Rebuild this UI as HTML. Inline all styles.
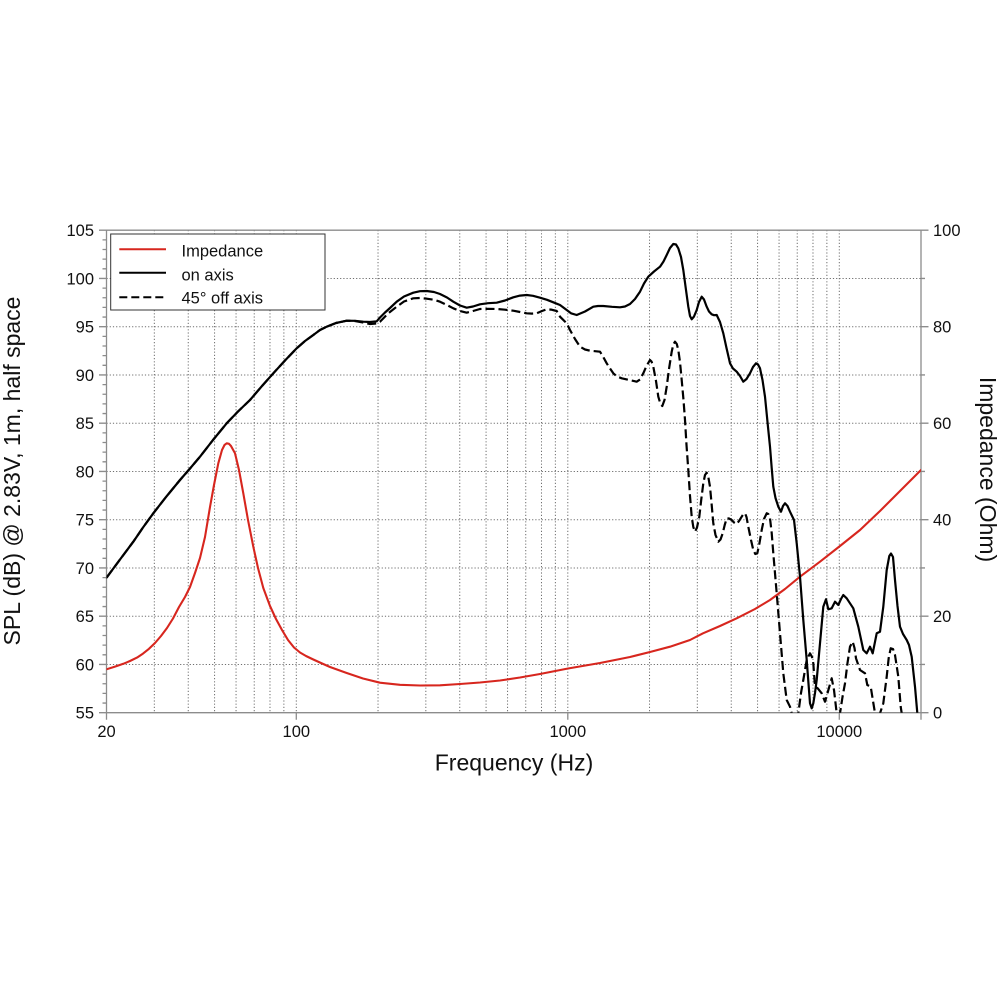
<!DOCTYPE html>
<html><head><meta charset="utf-8">
<style>
html,body{margin:0;padding:0;background:#fff;}
svg{display:block;}
text{font-family:"Liberation Sans",Arial,sans-serif;fill:#111;}
</style></head>
<body>
<svg width="1000" height="1000" viewBox="0 0 1000 1000" xmlns="http://www.w3.org/2000/svg">
<defs><clipPath id="pa"><rect x="106.5" y="230.2" width="814.5" height="482.5"/></clipPath></defs>
<rect width="1000" height="1000" fill="#fff"/>
<!-- grid -->
<g stroke="#6e6e6e" stroke-width="1" stroke-dasharray="1.2 2" fill="none">
<path d="M154.33 230V712.7M188.25 230V712.7M214.57 230V712.7M236.06 230V712.7M254.24 230V712.7M269.98 230V712.7M283.87 230V712.7M296.3 230V712.7
M378.03 230V712.7M425.83 230V712.7M459.75 230V712.7M486.07 230V712.7M507.56 230V712.7M525.74 230V712.7M541.48 230V712.7M555.37 230V712.7M567.8 230V712.7
M649.53 230V712.7M697.33 230V712.7M731.25 230V712.7M757.57 230V712.7M779.06 230V712.7M797.24 230V712.7M812.98 230V712.7M826.87 230V712.7M839.3 230V712.7"/>
<path d="M106.5 664.45H921M106.5 616.2H921M106.5 567.95H921M106.5 519.7H921M106.5 471.45H921M106.5 423.2H921M106.5 374.95H921M106.5 326.7H921M106.5 278.45H921"/>
</g>
<!-- axes frame -->
<g stroke="#8c8c8c" stroke-width="1.3" fill="none">
<path d="M106.5 230.2H921M106.5 230.2V712.7H921M921 230.2V712.7"/>
<path d="M99 712.7h7.5M99 664.45h7.5M99 616.2h7.5M99 567.95h7.5M99 519.7h7.5M99 471.45h7.5M99 423.2h7.5M99 374.95h7.5M99 326.7h7.5M99 278.45h7.5M99 230.2h7.5"/>
<path d="M102.5 703.05h4M102.5 693.4h4M102.5 683.75h4M102.5 674.1h4M102.5 654.8h4M102.5 645.15h4M102.5 635.5h4M102.5 625.85h4M102.5 606.55h4M102.5 596.9h4M102.5 587.25h4M102.5 577.6h4M102.5 558.3h4M102.5 548.65h4M102.5 539h4M102.5 529.35h4M102.5 510.05h4M102.5 500.4h4M102.5 490.75h4M102.5 481.1h4M102.5 461.8h4M102.5 452.15h4M102.5 442.5h4M102.5 432.85h4M102.5 413.55h4M102.5 403.9h4M102.5 394.25h4M102.5 384.6h4M102.5 365.3h4M102.5 355.65h4M102.5 346h4M102.5 336.35h4M102.5 317.05h4M102.5 307.4h4M102.5 297.75h4M102.5 288.1h4M102.5 268.8h4M102.5 259.15h4M102.5 249.5h4M102.5 239.85h4"/>
<path d="M921 712.7h7.5M921 616.2h7.5M921 519.7h7.5M921 423.2h7.5M921 326.7h7.5M921 230.2h7.5M921 664.45h4M921 567.95h4M921 471.45h4M921 374.95h4M921 278.45h4"/>
<path d="M106.5 712.7v7M296.3 712.7v7M567.8 712.7v7M839.3 712.7v7M921 712.7v7"/>
</g>
<g font-size="16.5" text-anchor="end">
<text x="94" y="718.7">55</text>
<text x="94" y="670.45">60</text>
<text x="94" y="622.2">65</text>
<text x="94" y="573.95">70</text>
<text x="94" y="525.7">75</text>
<text x="94" y="477.45">80</text>
<text x="94" y="429.2">85</text>
<text x="94" y="380.95">90</text>
<text x="94" y="332.7">95</text>
<text x="94" y="284.45">100</text>
<text x="94" y="236.2">105</text>
</g>
<g font-size="16.5" text-anchor="start">
<text x="933" y="718.7">0</text>
<text x="933" y="622.2">20</text>
<text x="933" y="525.7">40</text>
<text x="933" y="429.2">60</text>
<text x="933" y="332.7">80</text>
<text x="933" y="236.2">100</text>
</g>
<g font-size="16.5" text-anchor="middle">
<text x="106.5" y="737">20</text>
<text x="296.3" y="737">100</text>
<text x="567.8" y="737">1000</text>
<text x="839.3" y="737">10000</text>
</g>
<text x="514" y="770.5" font-size="23" text-anchor="middle">Frequency (Hz)</text>
<text transform="translate(20,471) rotate(-90)" font-size="23" text-anchor="middle">SPL (dB) @ 2.83V, 1m, half space</text>
<text transform="translate(980,469.5) rotate(90)" font-size="23" text-anchor="middle">Impedance (Ohm)</text>

<g clip-path="url(#pa)" fill="none" stroke-linejoin="round" stroke-linecap="round">
<polyline stroke="#d7261e" stroke-width="2.1" points="106.5,669.3 115,666.6 123.3,663.8 130,661 137,657.6 143,653.6 149,648.8 155,643 161,636 167,628 173,618.5 179,607 185,597 190,587 195,573 200,558 205,537 210,507 214,485 218.3,463.3 222,450 224.5,445 226.7,443.3 229,443.8 231,446 235,453.3 239,470 243.3,493.3 248,520 253.3,546.7 258,568 263.3,588 270,606 276,619 282,630 288,640 294,647.5 300,652.5 306,656 313.3,659.5 321,663 330,667 346.7,673 363,678.5 380,682.7 400,684.8 420,685.5 440,685.3 460,684 480,682.5 500,680.5 520,677.5 540,674 568,668.5 600,663 630,657 650,652 670,646.7 690,640 703,633.3 720,626 736.7,618.3 755,609 770,600 785,589 800,576.7 820,561.7 840,546 860,530 880,511 900,491 921,470"/>
<polyline stroke="#000" stroke-width="2.2" points="106.7,577.5 120,559.5 133.3,541.7 143,527.5 153.3,513.3 166,497 180,480 190,468.5 200,456.7 213,440 226.7,423.3 238,411.5 250,400 262,386 273.3,373.3 285,360.5 296.7,348.3 305,341 313.3,335 320,330 326.7,326.7 336,323 346.7,320.7 355,320.8 363.3,321.7 370,322 376.7,321.3 380,317.5 385,312.5 390,308 396.7,301.7 404,296.5 413.3,292.7 420,291.2 426.7,291 434,292 440,294 447,297.5 453.3,301.7 460,305.5 466.7,307.7 473,306.5 480,304.3 488,303.2 496.7,302.7 505,300.5 513.3,297.3 520,295.6 526.7,295 533,295.8 540,297.7 547,299.8 553.3,302.3 560,305 566.7,310 571,313.3 576.7,315 585,311.5 593.3,306.7 598,306 603.3,306 612,306.8 620,307.3 625,306.5 630,304 635,299 640,291.7 644,283.5 648.3,276.7 654,271.5 660,266.7 663.5,261.5 666.7,255 670,248 673.3,244 676,244.5 678.3,248.3 681,257 683.3,270 686,290 688.3,306.7 690,316 691.7,319.3 694,316.5 696.7,310 699,302 701.7,296.7 704,299.5 706.7,306.7 709,311.5 711.7,314.3 714,315.2 716.7,315 720,322 723.3,333.3 726.5,348 730,363.3 733,368.5 736.7,371.7 740,376 743.3,381.7 746.5,379 750,373.3 753,367 756,363.3 758,364.5 760,368.3 762.5,380 765,396.7 768.3,430 770,446.7 771.7,468 773.3,486.7 775.5,498 778.3,506.7 781,511.7 783,506 785,503.3 787.5,506 790,511.7 794,520 796.7,543.3 800,576.7 803.3,620 806.7,660 810,703.3 811.7,708.3 813.3,703.3 815,693 816.7,680 820,643.3 823.3,606.7 826,599.3 828.3,609.3 831.7,608.3 835,601.7 838.3,605 841,599 843.3,595 846.7,598.3 850,603.3 853.3,608.3 858.3,626.7 863.3,650 866.7,653.3 870,646.7 872.7,653.3 876.7,633.3 880,631.7 883.3,606.7 886.7,570 889.3,556 891,553.5 893,557 895,580 897.5,606 900,626.7 903,634 906.7,640 909,645 911.7,656.7 915,686.7 917.3,713 918.5,725"/>
<polyline stroke="#000" stroke-width="2.2" stroke-dasharray="9 4" stroke-linecap="butt" points="106.7,577.5 120,559.5 133.3,541.7 143,527.5 153.3,513.3 166,497 180,480 190,468.5 200,456.7 213,440 226.7,423.3 238,411.5 250,400 262,386 273.3,373.3 285,360.5 296.7,348.3 305,341 313.3,335 320,330 326.7,326.7 336,323 346.7,320.7 355,321 363.3,322.5 370,324 376.7,323.5 380,321.7 388,313.5 396.7,306.7 404,301.5 413.3,298.3 420,298 426.7,298.7 434,299.8 440,301.7 447,305 453.3,308.3 460,311 466.7,312.7 473,311 480,309 488,308.8 496.7,309 505,309.7 513.3,310.7 520,312 526.7,313.3 532,313.6 536.7,313.3 542,311 546.7,309.3 551,309.6 556.7,311 560,316.7 566.7,323.3 570,330 575,339 580,346.7 585,349.5 590,350.7 595,351.2 600,351.7 603,356.5 606.7,363.3 610,368.5 613.3,373.3 617,376.5 621.7,378.3 629,380 636.7,381.7 640,379.5 643.3,373.3 646.5,366 650,360 651.5,361.5 653.3,366.7 656,381 658.3,396.7 660.5,404 662.3,406 664.5,400 666.7,386.7 669,369 671.7,351.7 673.3,344.5 675,341.7 676.8,344 678.3,350 680,362 681.7,380 683.5,400 685,420 686.5,445 688.3,470 690,496 691.7,516.7 693.3,527 695,531.7 697,527.5 699.3,516.7 701.2,500 703.3,483.3 705,475 706.7,472.7 708.3,477 710,486.7 711.7,505 713.3,523.3 715.5,535 718.3,541.7 720.5,539.5 722.7,533.3 724.7,525 726.7,518.3 729,518.5 731.7,520 734,522.5 736.7,524 739,521 741.7,516.7 743.5,514 745,513.3 746.5,517 748.3,526.7 751,540 753.3,550 755.3,554 757.3,553.3 759.5,543 761.7,530 764,519 766.7,513.3 768.3,514 770,518.3 771.7,533 773.3,553.3 776.7,593.3 780,633.3 783.3,673.3 786.7,700 790,706.7 791.7,713.3 795,722 798.3,713.3 801,693 803.3,680 806.7,660 810,653.3 812,657 813.3,663.3 815,686.7 817.7,688.3 821.7,693.3 825,701.7 827,695 829.3,686.7 831.7,678.3 834,690 836.7,713.3 838.3,722 840,713.3 842.5,697 845,683.3 847.5,663 850,646.7 852.7,641.7 854.5,648 856,658.3 860,670 865,673.3 867.3,685 870.7,686.7 875,713.3 877.5,722 880,713.3 883.3,703.3 886.7,676.7 888.7,658 890.7,648.3 893,649 895,655 898.3,676.7 900.7,706.7 901.7,713.3 903,725"/>
</g>
<rect x="110.7" y="234" width="214.3" height="76" fill="#fff" stroke="#333" stroke-width="1"/>
<line x1="119.3" y1="249.3" x2="166" y2="249.3" stroke="#d7261e" stroke-width="2"/>
<line x1="119.3" y1="272.7" x2="166" y2="272.7" stroke="#000" stroke-width="2"/>
<line x1="119.3" y1="297.3" x2="166" y2="297.3" stroke="#000" stroke-width="2" stroke-dasharray="8 4"/>
<g font-size="16.5">
<text x="181.5" y="256.7">Impedance</text>
<text x="181.5" y="280.5">on axis</text>
<text x="181.5" y="303.5">45° off axis</text>
</g>
</svg>
</body></html>
